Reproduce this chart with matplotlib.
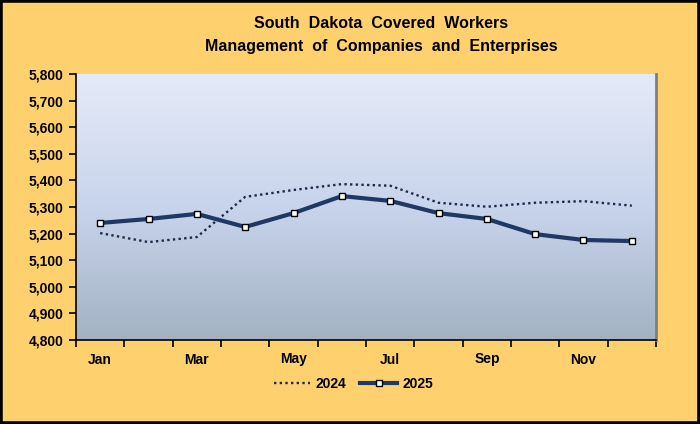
import matplotlib
matplotlib.use("Agg")
import matplotlib.pyplot as plt
import numpy as np
from matplotlib.colors import LinearSegmentedColormap
from matplotlib.patches import Rectangle
from matplotlib.ticker import FuncFormatter, FixedLocator

months = ["Jan", "Feb", "Mar", "Apr", "May", "Jun", "Jul", "Aug", "Sep", "Oct", "Nov", "Dec"]
values_2024 = [5202, 5168, 5187, 5338, 5364, 5386, 5380, 5316, 5301, 5316, 5322, 5305]
values_2025 = [5240, 5255, 5274, 5225, 5277, 5341, 5323, 5277, 5255, 5198, 5176, 5172]
title_lines = ["South  Dakota  Covered  Workers", "Management  of  Companies  and  Enterprises"]
y_min, y_max, y_step = 4800, 5800, 100

plt.rcParams['font.family'] = ['Liberation Sans', 'DejaVu Sans']

fig = plt.figure(figsize=(7, 4.24), dpi=100)
bg = "#FFD16E"
fig.patch.set_facecolor(bg)
fig.patches.append(Rectangle((0, 0), 1, 1, transform=fig.transFigure, fill=False,
                             edgecolor="black", linewidth=4, zorder=10))

ax = fig.add_axes([76/700, 1-340/424, 580/700, 266/424])
ax.set_facecolor("none")

cmap = LinearSegmentedColormap.from_list("g", ["#E5EAF8", "#C8D4EC", "#A3B2C3"])
grad = np.linspace(0, 1, 256).reshape(-1, 1)
ax.imshow(grad, aspect="auto", cmap=cmap, extent=[0, 1, 0, 1], transform=ax.transAxes,
          zorder=0, interpolation="bicubic")

x = np.arange(len(months))
ax.plot(x, values_2024, linestyle=(0, (1, 1.4)), color="#1B2A48", linewidth=1.7,
        label="2024", zorder=3)
ax.plot(x, values_2025, linestyle="-", color="#1F3864", linewidth=3.0, marker="s",
        markersize=5, markerfacecolor="white", markeredgecolor="black", markeredgewidth=1.0,
        label="2025", zorder=4)

ax.set_xlim(-0.5, len(months) - 0.5)
ax.set_ylim(y_min, y_max)
ax.set_yticks(np.arange(y_min, y_max + 1, y_step))
ax.yaxis.set_major_formatter(FuncFormatter(lambda v, p: f"{int(v):,}"))

ax.xaxis.set_major_locator(FixedLocator(np.arange(-0.5, len(months), 1.0)))
ax.xaxis.set_major_formatter(FuncFormatter(lambda v, p: ""))
ax.xaxis.set_minor_locator(FixedLocator(x[::2]))
ax.set_xticklabels(months[::2], minor=True)
ax.tick_params(axis="x", which="minor", length=0, pad=9)
ax.tick_params(axis="x", which="major", length=5, width=1.2, direction="out")
ax.tick_params(axis="y", length=5, width=1.2, direction="out", pad=4)
for lab in ax.get_yticklabels() + ax.get_xticklabels(minor=True):
    lab.set_fontweight("bold")
    lab.set_fontsize(10)

ax.spines["left"].set_linewidth(1.2)
ax.spines["bottom"].set_linewidth(1.2)
ax.spines["top"].set_visible(False)
ax.spines["right"].set_color("#7F7F7F")
ax.spines["right"].set_linewidth(2.0)

fig.text(0.545, 1-23/424, title_lines[0], ha="center", va="center", fontsize=11.5, fontweight="bold")
fig.text(0.545, 1-46/424, title_lines[1], ha="center", va="center", fontsize=11.5, fontweight="bold")

leg = fig.legend(loc="center", bbox_to_anchor=(0.505, 1-384/424), ncol=2, frameon=False,
                 prop={"weight": "bold", "size": 10}, handlelength=2.6, columnspacing=1.0,
                 handletextpad=0.4)

fig.savefig("out.png", dpi=100, facecolor=fig.get_facecolor())
